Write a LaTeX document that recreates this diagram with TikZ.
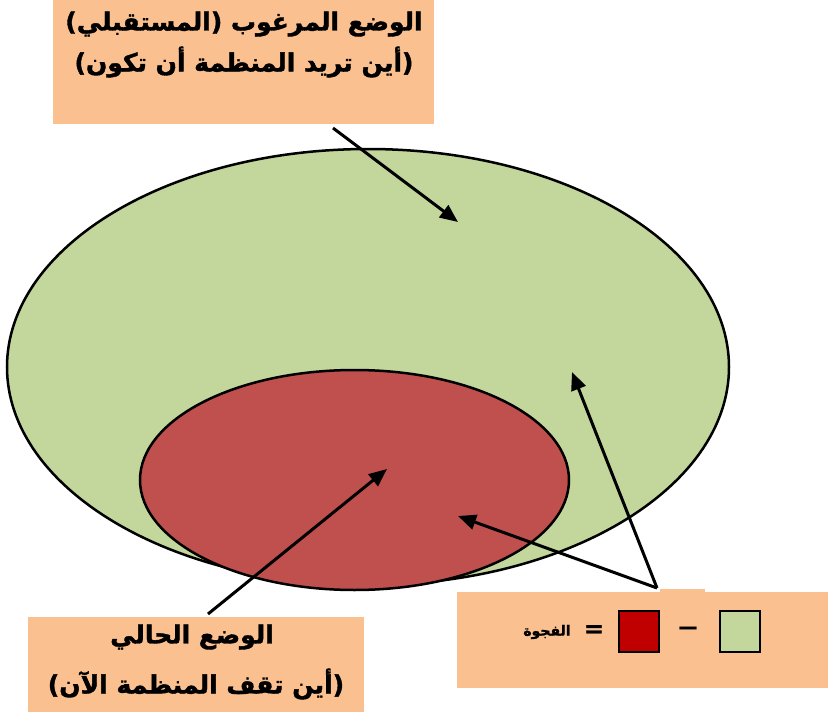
\documentclass[tikz,border=0pt]{standalone}
\usepackage{fontspec}
\usetikzlibrary{shapes.geometric,arrows.meta}
\TeXXeTstate=1
\newfontfamily\arabicfont[Script=Arabic,FakeBold=1.5]{DejaVu Sans}
\newfontfamily\symfont[FakeBold=1]{DejaVu Sans}
\definecolor{boxfill}{HTML}{FAC090}
\definecolor{greenfill}{HTML}{C3D69B}
\definecolor{redfill}{HTML}{C0504D}
\definecolor{darkred}{HTML}{C00000}
\tikzset{
  labelbox/.style={fill=boxfill,draw=none,inner sep=0pt,outer sep=0pt},
  artxt/.style={font=\arabicfont\bfseries\fontsize{25}{28}\selectfont,inner sep=0pt},
  arrowline/.style={line width=3pt,-{Triangle[length=18pt,width=15pt]}},
  swatch/.style={draw=black,line width=2pt,inner sep=0pt,outer sep=0pt,minimum width=40pt,minimum height=41pt}
}
\begin{document}
\begin{tikzpicture}[x=1pt,y=-1pt]
\useasboundingbox (0,0) rectangle (828,712);
% ellipses
\node[ellipse,draw=black,line width=2.5pt,fill=greenfill,minimum width=722pt,minimum height=436pt,inner sep=0pt] (desired) at (368,367) {};
\node[ellipse,draw=black,line width=2.5pt,fill=redfill,minimum width=429pt,minimum height=220pt,inner sep=0pt] (current) at (354.5,480) {};
% top box
\node[labelbox,minimum width=381pt,minimum height=124pt] (topbox) at (243.5,62) {};
\node[artxt] (top1) at (244,24) {\beginR الوضع المرغوب (المستقبلي)\endR};
\node[artxt] (top2) at (244,62) {\beginR (أين تريد المنظمة أن تكون)\endR};
% bottom-left box
\node[labelbox,minimum width=336pt,minimum height=95pt] (botbox) at (196,664.5) {};
\node[artxt] (bot1) at (192,637) {\beginR الوضع الحالي\endR};
\node[artxt] (bot2) at (196,684) {\beginR (أين تقف المنظمة الآن)\endR};
% gap box
\node[labelbox,minimum width=371pt,minimum height=96pt] (gapbox) at (642.5,640) {};
\fill[boxfill] (660,589) rectangle (705,593);
\node[swatch,fill=darkred] (redsq) at (639,631.5) {};
\node[swatch,fill=greenfill] (greensq) at (740,631.5) {};
\node[font=\symfont\bfseries\fontsize{19}{22}\selectfont,inner sep=0pt] (minus) at (688,630) {—};
\node[font=\symfont\bfseries\fontsize{24}{26}\selectfont,inner sep=0pt] (equals) at (594,631) {=};
\node[font=\arabicfont\bfseries\fontsize{14}{16}\selectfont,inner sep=0pt] (gapword) at (547,632) {\beginR الفجوة\endR};
% arrows
\coordinate (a1s) at (333,128);
\coordinate (a1e) at (458,222);
\coordinate (a2s) at (208,614);
\coordinate (a2e) at (387,469);
\coordinate (a3s) at (657,588);
\coordinate (a3e) at (458,516);
\coordinate (a4e) at (572,372);
\draw[arrowline] (a1s) -- (a1e);
\draw[arrowline] (a2s) -- (a2e);
\draw[arrowline] (a3s) -- (a3e);
\draw[arrowline] (a3s) -- (a4e);
\end{tikzpicture}
\end{document}
